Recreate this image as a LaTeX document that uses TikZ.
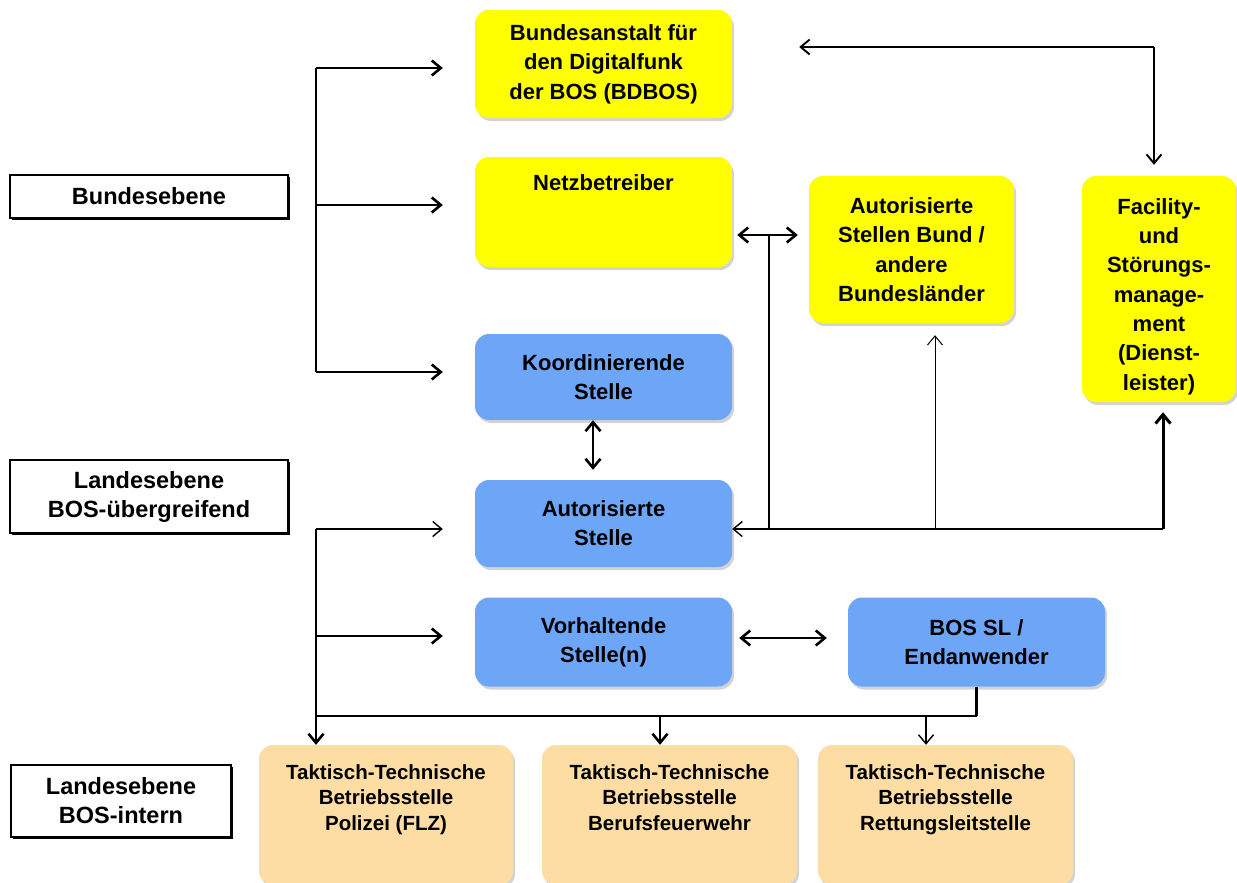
\documentclass[tikz,border=0pt]{standalone}
\usepackage{fontspec}
\setmainfont{Liberation Sans}
\usetikzlibrary{arrows.meta,shadows}
\definecolor{ybox}{HTML}{FFFF00}
\definecolor{bbox}{HTML}{6DA6F7}
\definecolor{pbox}{HTML}{FDDDA3}
\tikzset{
  box/.style={rectangle, rounded corners=14pt, align=center, inner sep=2pt,
    drop shadow={shadow xshift=2pt, shadow yshift=-3pt, opacity=0.35}},
  yel/.style={box, fill=ybox, font=\fontsize{22}{29.5}\selectfont\bfseries},
  blu/.style={box, fill=bbox, font=\fontsize{22}{29}\selectfont\bfseries},
  pea/.style={box, fill=pbox, font=\fontsize{20.5}{25.5}\selectfont\bfseries},
  ptext/.style={font=\fontsize{20.5}{25.5}\selectfont\bfseries, align=center, anchor=north, yshift=-16pt},
  lvl/.style={rectangle, draw=black, line width=1.5pt, fill=white, align=center,
    font=\fontsize{23.5}{29}\selectfont\bfseries,
    drop shadow={shadow xshift=1.5pt, shadow yshift=-1.8pt, fill=black, opacity=1}},
  tip/.style={-{Straight Barb[length=9pt,width=15pt]}},
  dtip/.style={{Straight Barb[length=9pt,width=15pt]}-{Straight Barb[length=9pt,width=15pt]}},
  thk/.style={line width=2.6pt},
  med/.style={line width=1.9pt},
  thn/.style={line width=1.4pt},
  vthn/.style={line width=1pt},
}
\begin{document}
\begin{tikzpicture}[x=1pt,y=-1pt]
\useasboundingbox (0,0) rectangle (1237,883);

% level labels
\node[lvl, minimum width=278pt, minimum height=43pt] (lb1) at (149,196.5) {Bundesebene};
\node[lvl, minimum width=278pt, minimum height=73pt] (lb2) at (149,496.5) {Landesebene\\BOS-übergreifend};
\node[lvl, minimum width=220pt, minimum height=72pt] (lb3) at (121,801) {Landesebene\\BOS-intern};

% yellow boxes
\node[yel, minimum width=257pt, minimum height=108pt] (bdbos) at (603.5,64) {Bundesanstalt für\\den Digitalfunk\\der BOS (BDBOS)};
\node[yel, minimum width=257pt, minimum height=110pt,
  label={[font=\fontsize{22}{29}\selectfont\bfseries, anchor=north, yshift=-14pt]north:Netzbetreiber}] (netz) at (603.5,212) {};
\node[yel, minimum width=205pt, minimum height=147pt] (autbund) at (911.5,249.5) {Autorisierte\\Stellen Bund /\\andere\\Bundesländer};
\node[yel, minimum width=154pt, minimum height=226pt,
  label={[font=\fontsize{22}{29.3}\selectfont\bfseries, align=center, anchor=north, yshift=-19pt]north:Facility-\\und\\Störungs-\\manage-\\ment\\(Dienst-\\leister)}] (fac) at (1159,289) {};

% blue boxes
\node[blu, minimum width=257pt, minimum height=86pt] (koord) at (603.5,377) {Koordinierende\\Stelle};
\node[blu, minimum width=257pt, minimum height=87pt] (autor) at (603.5,523.5) {Autorisierte\\Stelle};
\node[blu, minimum width=257pt, minimum height=89pt] (vorh) at (603.5,642) {Vorhaltende\\Stelle(n)};
\node[blu, minimum width=257pt, minimum height=89pt] (bossl) at (976.5,642) {BOS SL /\\Endanwender};

% peach boxes
\node[pea, minimum width=254pt, minimum height=140pt,
  label={[ptext]north:Taktisch-Technische\\Betriebsstelle\\Polizei (FLZ)}] (tak1) at (386,815) {};
\node[pea, minimum width=255pt, minimum height=140pt,
  label={[ptext]north:Taktisch-Technische\\Betriebsstelle\\Berufsfeuerwehr}] (tak2) at (669.5,815) {};
\node[pea, minimum width=255pt, minimum height=140pt,
  label={[ptext]north:Taktisch-Technische\\Betriebsstelle\\Rettungsleitstelle}] (tak3) at (945.5,815) {};

% coordinates for connector branch points
\coordinate (a1) at (316,68);
\coordinate (a2) at (316,205);
\coordinate (a3) at (316,372);
\coordinate (b1) at (316,529);
\coordinate (b2) at (316,636);
\coordinate (hb) at (316,716);
\coordinate (d2) at (660,716);
\coordinate (d3) at (926,716);
\coordinate (r0) at (1163,529);
\coordinate (r1) at (769,529);
\coordinate (r1t) at (769,235);
\coordinate (r2) at (935,529);
\coordinate (tc) at (1154,47);

% bus 1 (Bundesebene)
\draw[thk] (a1) -- (a3);
\draw[thk, tip, shorten >=32pt] (a1) -- (a1 -| bdbos.west);
\draw[thk, tip, shorten >=32pt] (a2) -- (a2 -| netz.west);
\draw[thk, tip, shorten >=32pt] (a3) -- (a3 -| koord.west);

% Koordinierende <-> Autorisierte
\draw[thk, dtip, shorten >=10pt] ([xshift=-10.5pt]koord.south) -- ([xshift=-10.5pt]autor.north);

% bus 2 (Landesebene)
\draw[thk, tip] (b1) -- (b1 |- tak1.north);
\draw[thn, tip, shorten >=32pt] (b1) -- (b1 -| autor.west);
\draw[thk, tip, shorten >=32pt] (b2) -- (b2 -| vorh.west);
\draw[thn] (hb) -- (hb -| bossl.south);
\draw[thk] (bossl.south) -- (bossl.south |- hb);
\draw[thk, tip] (d2) -- (d2 |- tak2.north);
\draw[thn, tip] (d3) -- (d3 |- tak3.north);

% Vorhaltende <-> BOS SL
\draw[thk, dtip, shorten <=7pt, shorten >=21pt] ([yshift=4pt]vorh.east) -- ([yshift=4pt]bossl.west);

% right side network
\draw[thn, tip] (r0) -- (r0 -| autor.east);
\draw[line width=3pt, tip, shorten >=10pt] (r0) -- (r0 |- fac.south);
\draw[thn] (r1) -- (r1t);
\draw[thk, dtip, shorten <=5pt, shorten >=11pt] (r1t -| netz.east) -- (r1t -| autbund.west);
\draw[vthn, tip, shorten >=12pt] (r2) -- (r2 |- autbund.south);

% BDBOS <-> Facility
\draw[med, tip, shorten >=67pt] (tc) -- (tc -| bdbos.east);
\draw[med, tip, shorten >=11pt] (tc) -- (tc |- fac.north);
\end{tikzpicture}
\end{document}
